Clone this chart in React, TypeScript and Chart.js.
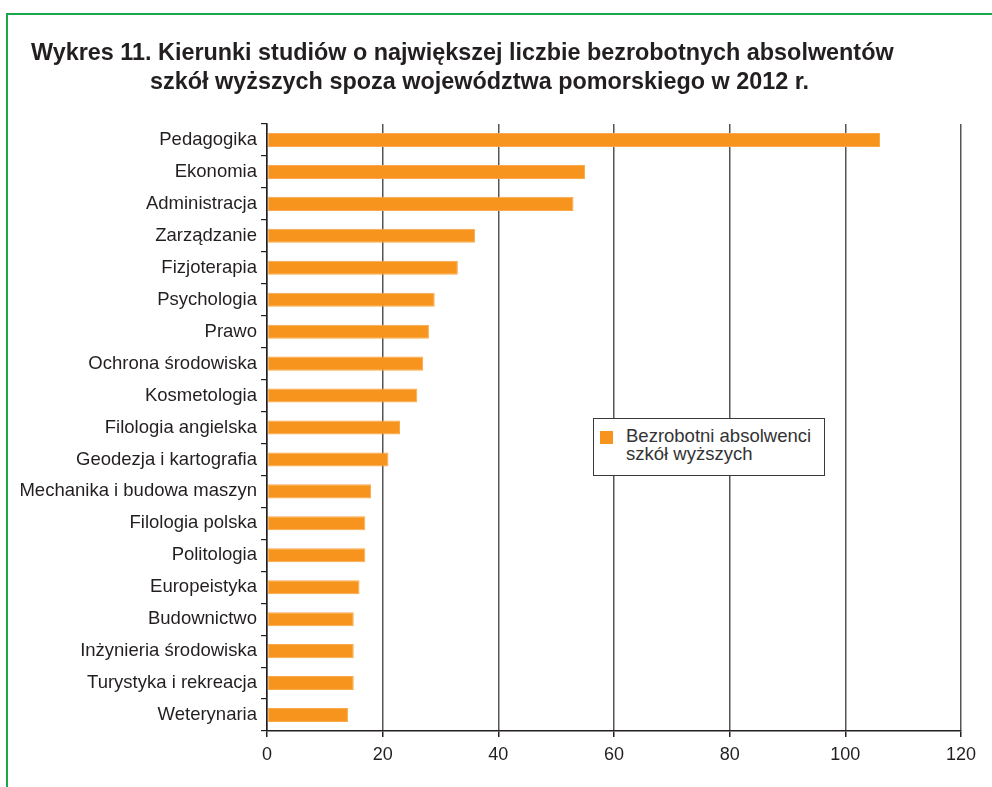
import React, { useEffect, useRef } from "react";
import { Chart, registerables } from "chart.js";

Chart.register(...registerables);

const titleLines = [
  "Wykres 11. Kierunki studiów o największej liczbie bezrobotnych absolwentów",
  "szkół wyższych spoza województwa pomorskiego w 2012 r.",
];

const categories = [
  "Pedagogika",
  "Ekonomia",
  "Administracja",
  "Zarządzanie",
  "Fizjoterapia",
  "Psychologia",
  "Prawo",
  "Ochrona środowiska",
  "Kosmetologia",
  "Filologia angielska",
  "Geodezja i kartografia",
  "Mechanika i budowa maszyn",
  "Filologia polska",
  "Politologia",
  "Europeistyka",
  "Budownictwo",
  "Inżynieria środowiska",
  "Turystyka i rekreacja",
  "Weterynaria",
];

const values = [106, 55, 53, 36, 33, 29, 28, 27, 26, 23, 21, 18, 17, 17, 16, 15, 15, 15, 14];

const xTicks = [0, 20, 40, 60, 80, 100, 120];

const legendLines = ["Bezrobotni absolwenci", "szkół wyższych"];

const FONT = '"Liberation Sans", Arial, Helvetica, sans-serif';
const TEXT = "#231f20";
const ORANGE = "#f7941d";
const GREEN = "#1ba64b";

export default function App() {
  const canvasRef = useRef<HTMLCanvasElement | null>(null);

  useEffect(() => {
    document.body.style.margin = "0";
    const canvas = canvasRef.current;
    if (!canvas) return;
    const chart = new Chart(canvas, {
      type: "bar",
      data: {
        labels: categories,
        datasets: [
          {
            label: legendLines.join(" "),
            data: values,
            backgroundColor: ORANGE,
            borderColor: "#f9a94a",
            borderWidth: 1,
            borderSkipped: false,
            barPercentage: 0.44,
            categoryPercentage: 1,
          },
        ],
      },
      options: {
        indexAxis: "y",
        responsive: false,
        animation: false,
        devicePixelRatio: 1,
        layout: { padding: { top: 124, right: 31, left: 0, bottom: 0 } },
        plugins: {
          legend: { display: false },
          title: { display: false },
          tooltip: { enabled: false },
        },
        scales: {
          x: {
            type: "linear",
            position: "bottom",
            min: 0,
            max: 120,
            afterBuildTicks: (scale: any) => {
              scale.ticks = xTicks.map((v) => ({ value: v }));
            },
            afterFit: (scale: any) => {
              scale.height = 56;
            },
            grid: {
              color: "#555555",
              lineWidth: 1.5,
              tickLength: 6,
              tickColor: TEXT,
              drawOnChartArea: true,
            },
            border: { display: true, color: TEXT, width: 1.5 },
            ticks: {
              color: TEXT,
              padding: 7,
              font: { family: FONT, size: 18 },
              maxRotation: 0,
            },
          },
          y: {
            type: "category",
            offset: true,
            afterFit: (scale: any) => {
              scale.width = 267;
            },
            grid: {
              offset: true,
              drawOnChartArea: false,
              tickLength: 6,
              color: TEXT,
              lineWidth: 1.2,
            },
            border: { display: true, color: TEXT, width: 1.5 },
            ticks: {
              color: TEXT,
              padding: 4,
              font: { family: FONT, size: 18.5 },
              autoSkip: false,
            },
          },
        },
      },
    });
    return () => chart.destroy();
  }, []);

  return (
    <div style={{ position: "relative", width: 992, height: 787, overflow: "hidden", background: "#fff" }}>
      <canvas ref={canvasRef} width={992} height={787} style={{ position: "absolute", left: 0, top: 0 }} />
      <div style={{ position: "absolute", left: 6, top: 13, width: 986, height: 2, background: GREEN }} />
      <div style={{ position: "absolute", left: 6, top: 13, width: 2, height: 774, background: GREEN }} />
      <div
        style={{
          position: "absolute",
          left: 31,
          top: 38,
          fontFamily: FONT,
          fontWeight: "bold",
          fontSize: 23.4,
          lineHeight: "29px",
          color: TEXT,
          whiteSpace: "nowrap",
        }}
      >
        <div>{titleLines[0]}</div>
        <div style={{ paddingLeft: 119 }}>{titleLines[1]}</div>
      </div>
      <div
        style={{
          position: "absolute",
          left: 593,
          top: 418,
          width: 232,
          height: 58,
          boxSizing: "border-box",
          border: "1.5px solid #3a3a3a",
          background: "#fff",
        }}
      >
        <div style={{ position: "absolute", left: 6, top: 12, width: 13, height: 13, background: ORANGE }} />
        <div
          style={{
            position: "absolute",
            left: 32,
            top: 8,
            fontFamily: FONT,
            fontSize: 18.5,
            lineHeight: "18px",
            color: "#333",
            whiteSpace: "nowrap",
          }}
        >
          <div>{legendLines[0]}</div>
          <div>{legendLines[1]}</div>
        </div>
      </div>
    </div>
  );
}
